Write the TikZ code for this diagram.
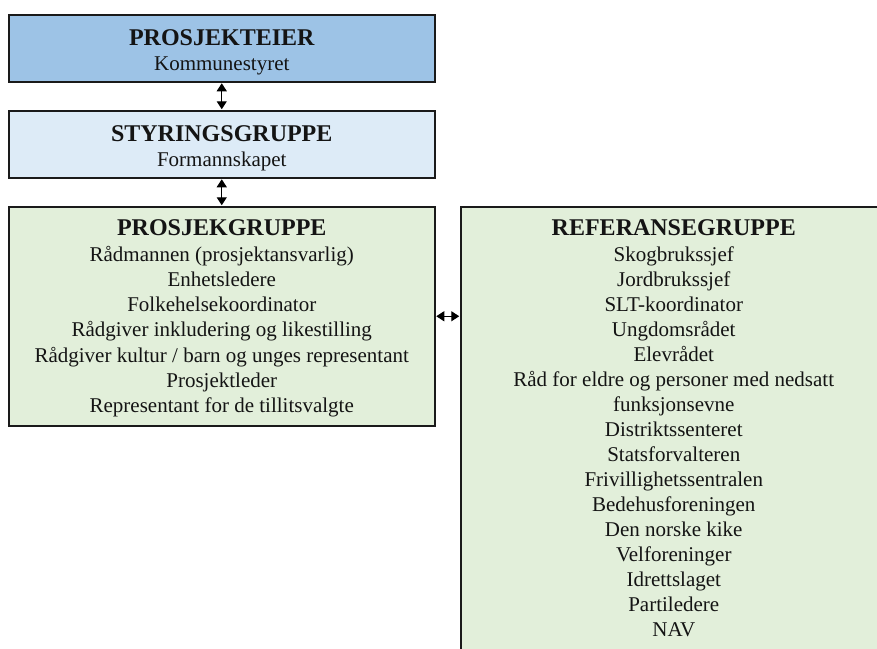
\documentclass[tikz,border=0pt]{standalone}
\usepackage{fontspec}
\setmainfont{Liberation Serif}
\usetikzlibrary{arrows.meta}
\definecolor{ownerblue}{HTML}{9DC3E6}
\definecolor{steerblue}{HTML}{DDEBF7}
\definecolor{groupgreen}{HTML}{E2EFDA}
\definecolor{edge}{HTML}{1A1A1A}
\tikzset{
  orgbox/.style={draw=edge, line width=1.5pt, rectangle, inner sep=0pt, anchor=north west},
  bodytext/.style={align=center, font=\fontsize{21}{25.2}\selectfont, inner sep=0pt, text=black!92},
  twoway/.style={{Triangle[length=8pt,width=10pt]}-{Triangle[length=8pt,width=10pt]}, line width=1.2pt, draw=black},
}
\newcommand{\grouptitle}[1]{{\fontsize{24}{25.2}\selectfont\bfseries #1}}
\begin{document}
\begin{tikzpicture}[x=1pt,y=-1pt]
\useasboundingbox (0,0) rectangle (877,648);
\clip (0,0) rectangle (877,648);
% boxes
\node[orgbox, fill=ownerblue, minimum width=426pt, minimum height=67pt] (owner) at (8,14) {};
\node[bodytext, anchor=center] (ownertext) at ([yshift=-4pt]owner.center) {\grouptitle{PROSJEKTEIER}\\[0pt]Kommunestyret};
\node[orgbox, fill=steerblue, minimum width=426pt, minimum height=67pt] (steer) at (8,110) {};
\node[bodytext, anchor=center] (steertext) at ([yshift=-4pt]steer.center) {\grouptitle{STYRINGSGRUPPE}\\[0pt]Formannskapet};
\node[orgbox, fill=groupgreen, minimum width=426pt, minimum height=219pt] (proj) at (8,206) {};
\node[bodytext, anchor=north] (projtext) at ([yshift=-13pt]proj.north) {\grouptitle{PROSJEKGRUPPE}\\[1pt]
Rådmannen (prosjektansvarlig)\\
Enhetsledere\\
Folkehelsekoordinator\\
Rådgiver inkludering og likestilling\\
Rådgiver kultur / barn og unges representant\\
Prosjektleder\\
Representant for de tillitsvalgte};
\node[orgbox, fill=groupgreen, minimum width=426pt, minimum height=480pt] (ref) at (460,206) {};
\node[bodytext, anchor=north, font=\fontsize{21}{25}\selectfont] (reftext) at ([yshift=-13pt]ref.north) {\grouptitle{REFERANSEGRUPPE}\\[1pt]
Skogbrukssjef\\
Jordbrukssjef\\
SLT-koordinator\\
Ungdomsrådet\\
Elevrådet\\
Råd for eldre og personer med nedsatt\\
funksjonsevne\\
Distriktssenteret\\
Statsforvalteren\\
Frivillighetssentralen\\
Bedehusforeningen\\
Den norske kike\\
Velforeninger\\
Idrettslaget\\
Partiledere\\
NAV};
% connectors
\draw[twoway] ([yshift=-0.75pt]owner.south) -- ([yshift=0.75pt]steer.north);
\draw[twoway] ([yshift=-0.75pt]steer.south) -- ([yshift=0.75pt]proj.north);
\draw[twoway] ([xshift=0.75pt]proj.east) -- ([xshift=-0.75pt]ref.west |- proj.east);
\end{tikzpicture}
\end{document}
